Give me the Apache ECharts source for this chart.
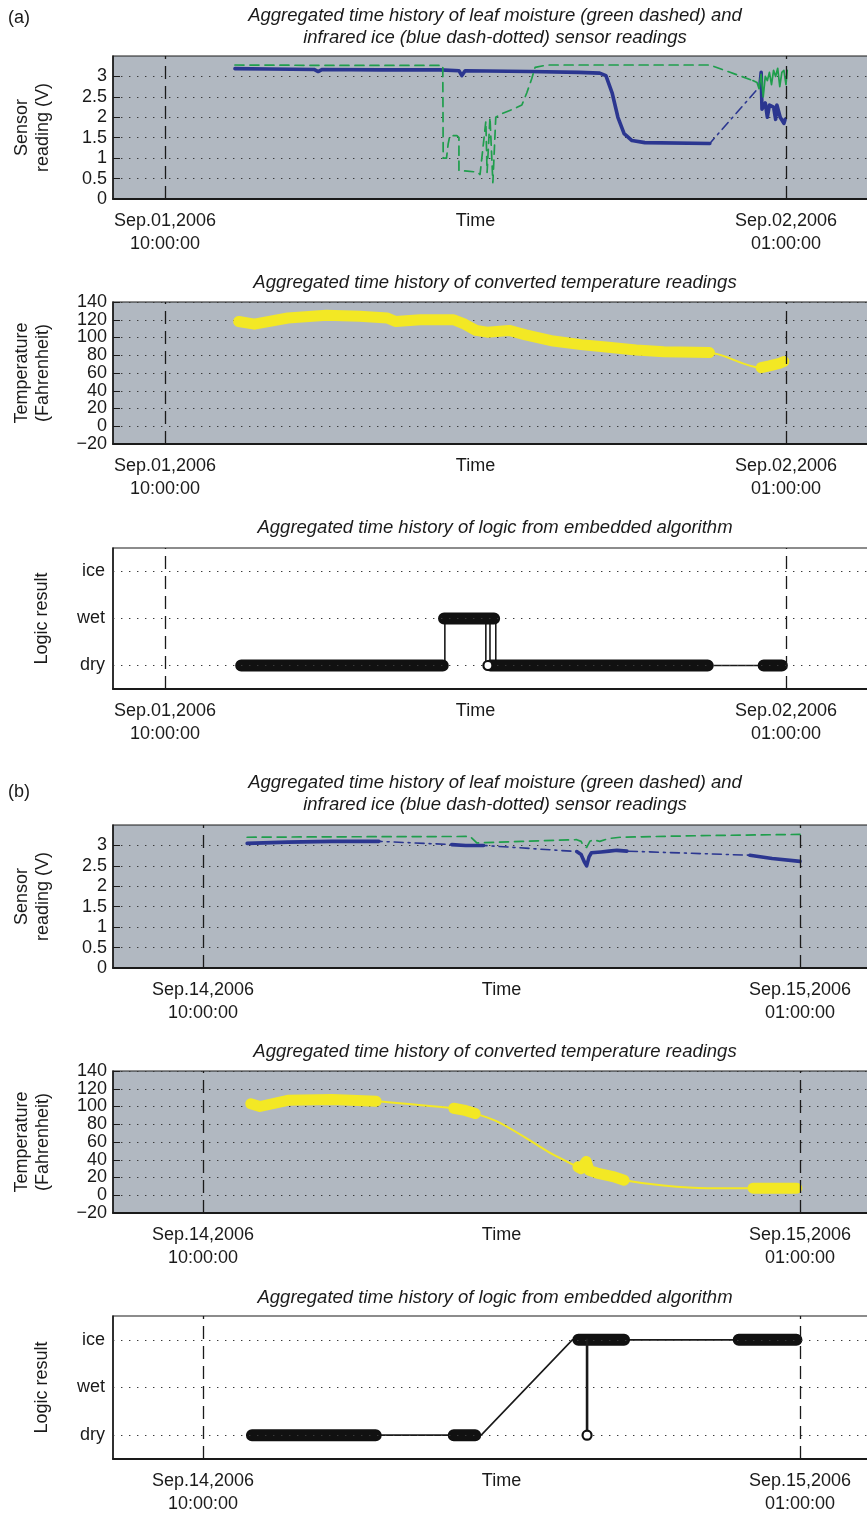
<!DOCTYPE html>
<html>
<head>
<meta charset="utf-8">
<script src="https://cdn.jsdelivr.net/npm/echarts@6/dist/echarts.min.js"></script>
<style>
  html, body { margin: 0; padding: 0; background: #fff; }
  #chart { width: 867px; height: 1515px; }
</style>
</head>
<body>
<div id="chart"></div>
<script>
// x values are hours after midnight of the first day of each record
const tickHours = [10, 17.5, 25];
const tickLabelsA = ['Sep.01,2006\n10:00:00', 'Time', 'Sep.02,2006\n01:00:00'];
const tickLabelsB = ['Sep.14,2006\n10:00:00', 'Time', 'Sep.15,2006\n01:00:00'];
const sensorTicks = [0, 0.5, 1, 1.5, 2, 2.5, 3];
const tempTicks = [-20, 0, 20, 40, 60, 80, 100, 120, 140];
const logicLevels = ['dry', 'wet', 'ice'];

// ---- (a) Sep.01 ----
const moistA = [[11.69,3.28],[14.0,3.27],[16.71,3.27],[16.72,1.0],[16.80,1.0],[16.84,1.35],[16.88,1.55],[17.05,1.55],
  [17.10,1.5],[17.10,0.7],[17.30,0.68],[17.54,0.66],[17.61,0.6],[17.75,1.9],[17.78,0.65],[17.85,2.0],[17.92,0.4],
  [17.99,2.0],[18.16,2.1],[18.41,2.2],[18.62,2.3],[18.74,2.6],[18.86,2.95],[18.94,3.22],[19.23,3.28],[23.16,3.28],[24.20,2.9]];
const moistNoiseA = [[24.20,2.9],[24.30,2.85],[24.35,2.7],[24.40,3.05],[24.45,2.5],[24.50,3.0],[24.55,2.9],[24.60,3.1],
  [24.65,2.8],[24.70,3.15],[24.75,3.0],[24.80,3.2],[24.85,2.75],[24.90,3.1],[24.95,3.15],[25.0,2.8],[25.03,3.15]];
const iceSegA1 = [[11.69,3.19],[12.5,3.18],[13.6,3.17],[13.7,3.12],[13.8,3.17],[15.2,3.16],[16.64,3.16],[17.10,3.14],
  [17.17,3.02],[17.25,3.14],[18.8,3.12],[20.0,3.1],[20.5,3.08],[20.65,3.02],[20.8,2.6],[20.94,2.0],[21.09,1.6],
  [21.28,1.43],[21.59,1.38],[23.16,1.36]];
const iceSegA2 = [[24.37,2.76],[24.40,3.1],[24.42,2.2],[24.50,2.35],[24.55,2.0],[24.60,2.3],[24.70,2.25],[24.75,1.95],
  [24.78,2.3],[24.86,2.0],[24.95,1.85],[24.98,1.95]];
const tempSegA1 = [[11.78,118],[12.16,115],[12.97,122],[13.90,125],[14.70,124],[15.37,122],[15.57,118],[16.17,120],
  [16.97,120],[17.24,115],[17.51,108],[17.78,106],[18.31,108],[18.71,103],[19.38,96],[20.05,92],[20.71,89],
  [21.38,86],[22.05,84],[23.15,83]];
const tempSegA2 = [[24.40,66],[24.60,68],[24.85,71],[24.95,73]];
const logicLineA = [[11.84,0],[16.76,0],[16.76,1],[17.75,1],[17.75,0],[17.80,0],[17.85,0],[17.85,1],[17.99,1],
  [17.99,0],[23.11,0],[24.46,0],[24.90,0]];
const logicDryA = [[[11.84,0],[16.71,0]], [[17.86,0],[23.11,0]], [[24.46,0],[24.90,0]]];
const logicWetA = [[[16.74,1],[17.95,1]]];
const logicDipA = [[17.80,0]];

// ---- (b) Sep.14 ----
const moistB = [[11.11,3.2],[13.0,3.21],[16.71,3.22],[16.88,3.06],[18.0,3.1],[19.39,3.14],[19.50,3.1],[19.55,3.0],
  [19.64,2.95],[19.72,3.1],[19.80,3.14],[19.97,3.1],[20.2,3.17],[20.48,3.2],[22.5,3.24],[25.0,3.27]];
const iceSegB1 = [[11.11,3.05],[12.13,3.08],[13.24,3.1],[14.42,3.1]];
const iceSegB2 = [[16.25,3.02],[16.6,3.0],[17.05,3.0]];
const iceSegB3 = [[19.39,2.85],[19.50,2.78],[19.58,2.6],[19.64,2.5],[19.70,2.72],[19.76,2.82],[20.0,2.84],
  [20.2,2.86],[20.4,2.88],[20.65,2.86]];
const iceSegB4 = [[23.74,2.76],[24.3,2.68],[25.0,2.61]];
const tempSegB1 = [[11.2,103],[11.43,100],[12.13,107],[13.24,108],[14.35,106]];
const tempSegB2 = [[16.30,98],[16.55,96],[16.84,92]];
const tempSegB3 = [[19.42,32],[19.5,30],[19.63,38],[19.7,28],[19.90,25],[20.3,21],[20.58,17]];
const tempSegB4 = [[23.82,8],[24.4,8],[24.92,8]];
const tempBridgeB = [[17.40,83],[18.10,65],[18.79,46],[21.57,11],[22.68,8]];
const logicLineB = [[11.23,0],[16.99,0],[19.28,2],[24.91,2]];
const logicDropB = [[19.65,2],[19.65,0]];
const logicDryB = [[[11.23,0],[14.34,0]], [[16.30,0],[16.84,0]]];
const logicIceB = [[[19.43,2],[20.58,2]], [[23.46,2],[24.91,2]]];
const logicDipB = [[19.65,0]];

const joinSegs = segs => segs.reduce((acc, s, i) => i ? acc.concat([null], s) : acc.concat(s), []);
const flat = segs => segs.reduce((acc, s) => acc.concat(s), []);

const FONT = 'Liberation Sans';
const INK = '#1a1a1a';
const GREEN = '#1f9e4c';
const BLUE = '#2b3690';
const YELLOW = '#f3e824';
const PANEL = '#b1b8c1';

const grids = [
  { top: 56, height: 143, bg: PANEL },
  { top: 302, height: 142, bg: PANEL },
  { top: 548, height: 141, bg: '#fff' },
  { top: 825, height: 143, bg: PANEL },
  { top: 1071, height: 142, bg: PANEL },
  { top: 1316, height: 143, bg: '#fff' }
];

const xRangeA = [8.744, 27.44];
const xRangeB = [7.739, 27.186];

function xAxisFor(i, range, labels) {
  return {
    type: 'value', gridIndex: i, min: range[0], max: range[1],
    axisLine: { show: true, onZero: false, lineStyle: { color: INK, width: 2 } },
    axisTick: { show: false },
    splitLine: { show: false },
    axisLabel: {
      customValues: tickHours,
      formatter: v => labels[tickHours.indexOf(v)] || '',
      fontFamily: FONT, fontSize: 18, lineHeight: 23, margin: 11, color: INK
    }
  };
}

const dotted = { color: '#3a3a3a', width: 1.2, type: [1.4, 6.6] };
const yLabel = { fontFamily: FONT, fontSize: 18, margin: 6, color: INK, showMinLabel: true, showMaxLabel: true };

function sensorY(i) {
  return {
    type: 'value', gridIndex: i, position: 'left', min: 0, max: 3.5, interval: 0.5,
    axisLine: { show: true, onZero: false, lineStyle: { color: INK, width: 1.5 } },
    axisTick: { show: true, inside: true, length: 7, customValues: sensorTicks, lineStyle: { color: INK } },
    axisLabel: Object.assign({ customValues: sensorTicks }, yLabel),
    splitLine: { show: true, lineStyle: dotted }
  };
}

// temperature labels are split over two stacked left axes so neighbouring labels never get auto-hidden
function tempY(i, values, main) {
  return {
    type: 'value', gridIndex: i, position: 'left', offset: 0, min: -20, max: 140, interval: 20,
    axisLine: { show: main, onZero: false, lineStyle: { color: INK, width: 1.5 } },
    axisTick: { show: main, inside: true, length: 7, customValues: tempTicks, lineStyle: { color: INK } },
    axisLabel: Object.assign({ customValues: values, formatter: v => String(v).replace('-', '\u2212') }, yLabel),
    splitLine: { show: main, lineStyle: dotted }
  };
}

function logicY(i) {
  return {
    type: 'value', gridIndex: i, position: 'left', min: -0.5, max: 2.5,
    axisLine: { show: true, onZero: false, lineStyle: { color: INK, width: 1.5 } },
    axisTick: { show: false },
    axisLabel: Object.assign({}, yLabel, { customValues: [0, 1, 2], formatter: v => logicLevels[v], margin: 8 }),
    splitLine: { show: false }
  };
}

const dayLines = {
  silent: true, symbol: ['none', 'none'], label: { show: false },
  lineStyle: { color: INK, width: 1.3, type: [13, 7] },
  data: [{ xAxis: 10 }, { xAxis: 25 }]
};
const levelLines = {
  silent: true, symbol: ['none', 'none'], label: { show: false },
  lineStyle: dotted,
  data: [{ yAxis: 0 }, { yAxis: 1 }, { yAxis: 2 }]
};

function line(xi, yi, data, color, width, type, z, extra) {
  return Object.assign({
    type: 'line', xAxisIndex: xi, yAxisIndex: yi, data: data, showSymbol: false, symbol: 'none',
    connectNulls: false, animation: false, z: z,
    lineStyle: { color: color, width: width, type: type, cap: 'round', join: 'round' }
  }, extra || {});
}

function sensorSeries(xi, yi, moist, moistNoise, iceSegs) {
  const s = [
    line(xi, yi, flat(iceSegs), BLUE, 1.6, [9, 5, 2, 5], 2, { markLine: dayLines }),
    line(xi, yi, joinSegs(iceSegs), BLUE, 3.6, 'solid', 3),
    line(xi, yi, moist, GREEN, 1.7, [9, 6], 4)
  ];
  if (moistNoise) s.push(line(xi, yi, moistNoise, GREEN, 1.7, 'solid', 4));
  return s;
}

function tempSeries(xi, yi, altYi, segs, bridge) {
  const all = flat(segs).concat(bridge || []).sort((a, b) => a[0] - b[0]);
  return [
    line(xi, yi, all, YELLOW, 2, 'solid', 2, { markLine: dayLines, smooth: 0.3 }),
    line(xi, yi, joinSegs(segs), YELLOW, 11, 'solid', 3),
    // empty series so the second label axis is laid out
    line(xi, altYi, [], YELLOW, 0, 'solid', 1)
  ];
}

function logicSeries(xi, yi, path, thickSegs, extraLine, dips) {
  const s = [
    line(xi, yi, path, INK, 1.6, 'solid', 3, { markLine: levelLines }),
    line(xi, yi, [], INK, 1, 'solid', 2, { markLine: dayLines }),
    line(xi, yi, joinSegs(thickSegs), '#111', 12, 'solid', 4)
  ];
  if (extraLine) s.push(line(xi, yi, extraLine, INK, 2.6, 'solid', 4));
  s.push({
    type: 'scatter', xAxisIndex: xi, yAxisIndex: yi, data: dips, symbol: 'circle', symbolSize: 9,
    itemStyle: { color: '#ffffff', borderColor: '#111111', borderWidth: 2.2, opacity: 1 },
    z: 6, animation: false, silent: true
  });
  return s;
}

const titleStyle = { fontFamily: FONT, fontSize: 18.5, fontStyle: 'italic', fill: INK, align: 'center', verticalAlign: 'middle' };
const nameStyle = { fontFamily: FONT, fontSize: 18, fill: INK, align: 'center', verticalAlign: 'middle' };
function text(x, y, str, style, rot) {
  return { type: 'text', x: x, y: y, rotation: rot || 0, style: Object.assign({ text: str }, style), silent: true };
}
function yName(g, lines) {
  const cy = g.top + g.height / 2;
  if (lines.length === 1) return [text(42, cy, lines[0], nameStyle, Math.PI / 2)];
  return [text(22, cy, lines[0], nameStyle, Math.PI / 2), text(43, cy, lines[1], nameStyle, Math.PI / 2)];
}
const TX = 495;
const labelStyle = { fontFamily: FONT, fontSize: 18, fill: INK, verticalAlign: 'middle' };
const graphics = [
  text(8, 18, '(a)', labelStyle),
  text(TX, 16, 'Aggregated time history of leaf moisture (green dashed) and', titleStyle),
  text(TX, 38, 'infrared ice (blue dash-dotted) sensor readings', titleStyle),
  text(TX, 283, 'Aggregated time history of converted temperature readings', titleStyle),
  text(TX, 528, 'Aggregated time history of logic from embedded algorithm', titleStyle),
  text(8, 792, '(b)', labelStyle),
  text(TX, 783, 'Aggregated time history of leaf moisture (green dashed) and', titleStyle),
  text(TX, 805, 'infrared ice (blue dash-dotted) sensor readings', titleStyle),
  text(TX, 1052, 'Aggregated time history of converted temperature readings', titleStyle),
  text(TX, 1298, 'Aggregated time history of logic from embedded algorithm', titleStyle)
].concat(
  yName(grids[0], ['Sensor', 'reading (V)']),
  yName(grids[1], ['Temperature', '(Fahrenheit)']),
  yName(grids[2], ['Logic result']),
  yName(grids[3], ['Sensor', 'reading (V)']),
  yName(grids[4], ['Temperature', '(Fahrenheit)']),
  yName(grids[5], ['Logic result'])
);

const tempMainTicks = [-20, 20, 60, 100, 140];
const tempAltTicks = [0, 40, 80, 120];

const chart = echarts.init(document.getElementById('chart'), null, { renderer: 'canvas' });
chart.setOption({
  animation: false,
  backgroundColor: '#fff',
  grid: grids.map(g => ({
    left: 113, width: 774, top: g.top, height: g.height,
    containLabel: false, outerBoundsMode: 'none',
    show: true, backgroundColor: g.bg, borderColor: INK, borderWidth: 1.2
  })),
  xAxis: [
    xAxisFor(0, xRangeA, tickLabelsA), xAxisFor(1, xRangeA, tickLabelsA), xAxisFor(2, xRangeA, tickLabelsA),
    xAxisFor(3, xRangeB, tickLabelsB), xAxisFor(4, xRangeB, tickLabelsB), xAxisFor(5, xRangeB, tickLabelsB)
  ],
  // y axes 0..5 follow the grids; 6 and 7 carry the remaining temperature labels
  yAxis: [sensorY(0), tempY(1, tempMainTicks, true), logicY(2), sensorY(3), tempY(4, tempMainTicks, true), logicY(5),
    tempY(1, tempAltTicks, false), tempY(4, tempAltTicks, false)],
  series: [].concat(
    sensorSeries(0, 0, moistA, moistNoiseA, [iceSegA1, iceSegA2]),
    tempSeries(1, 1, 6, [tempSegA1, tempSegA2]),
    logicSeries(2, 2, logicLineA, logicDryA.concat(logicWetA), null, logicDipA),
    sensorSeries(3, 3, moistB, null, [iceSegB1, iceSegB2, iceSegB3, iceSegB4]),
    tempSeries(4, 4, 7, [tempSegB1, tempSegB2, tempSegB3, tempSegB4], tempBridgeB),
    logicSeries(5, 5, logicLineB, logicDryB.concat(logicIceB), logicDropB, logicDipB)
  ),
  graphic: graphics
});
</script>
</body>
</html>
